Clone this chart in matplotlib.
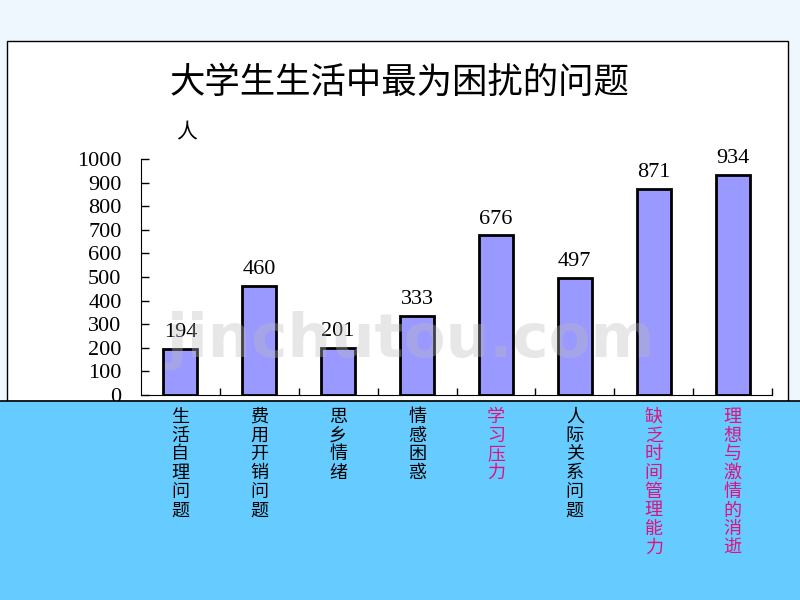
import matplotlib
matplotlib.use("Agg")
import matplotlib.pyplot as plt
import matplotlib.patches as mpatches
import matplotlib.transforms as mtransforms
import numpy as np

plt.rcParams["font.family"] = ["Noto Sans CJK SC", "DejaVu Sans"]

# 数据
categories = ["生活自理问题", "费用开销问题", "思乡情绪", "情感困惑",
              "学习压力", "人际关系问题", "缺乏时间管理能力", "理想与激情的消逝"]
counts = [194, 460, 201, 333, 676, 497, 871, 934]
highlight = [False, False, False, False, True, False, True, True]
yticks = list(range(0, 1001, 100))

BAR = "#9999FF"
PINK = "#E0107F"
CYAN = "#66CCFF"

fig = plt.figure(figsize=(8, 6), dpi=100)
fig.patch.set_facecolor("#EEF6FE")

# 白色图表框
fig.patches.append(mpatches.Rectangle((7 / 800, 1 - 401 / 600), 781 / 800, 360 / 600,
                                      transform=fig.transFigure, facecolor="white",
                                      edgecolor="black", linewidth=1, zorder=-1))
# 下方青色标签区
fig.patches.append(mpatches.Rectangle((-0.01, -0.01), 1.02, 1 - 401 / 600 + 0.01,
                                      transform=fig.transFigure, facecolor=CYAN,
                                      edgecolor="black", linewidth=1.2, zorder=5))

ax = fig.add_axes([141 / 800, 1 - 395 / 600, 631 / 800, 236 / 600])
ax.set_facecolor("none")
x = np.arange(len(counts))
ax.bar(x, counts, width=0.43, color=BAR, edgecolor="black", linewidth=2, zorder=3)
for xi, v in zip(x, counts):
    ax.annotate(str(v), (xi, v), xytext=(0, 5), textcoords="offset points",
                ha="center", va="bottom", fontsize=16, family="Liberation Serif")

ax.set_xlim(-0.5, len(counts) - 0.5)
ax.set_ylim(0, 1000)
ax.set_yticks(yticks)
ax.set_yticklabels([str(t) for t in yticks], family="Liberation Serif", fontsize=16)
ax.tick_params(axis="y", direction="in", length=6, pad=14, width=1)
ax.set_xticks(np.arange(len(counts)) + 0.5)
ax.set_xticklabels([])
ax.tick_params(axis="x", direction="in", length=5, width=1)
for s in ["top", "right"]:
    ax.spines[s].set_visible(False)

fig.text(399 / 800, 1 - 83 / 600, "大学生生活中最为困扰的问题", ha="center", va="center",
         fontsize=25.5)
fig.text(187 / 800, 1 - 132 / 600, "人", ha="center", va="center", fontsize=15)

# 水印
fig.text(410 / 800, 1 - 340 / 600, "jinchutou.com", ha="center", va="center",
         fontsize=44, fontweight="bold", family="DejaVu Sans", color="#BBBBBB",
         alpha=0.35, zorder=4)

# 竖排类别标签
trans = mtransforms.blended_transform_factory(ax.transData, fig.transFigure)
for xi, lab, hl in zip(x, categories, highlight):
    fig.text(xi, 1 - 408 / 600, "\n".join(lab), transform=trans, ha="center", va="top",
             fontsize=13, linespacing=1.05, color=PINK if hl else "black", zorder=6)

fig.savefig("out.png", dpi=100)
